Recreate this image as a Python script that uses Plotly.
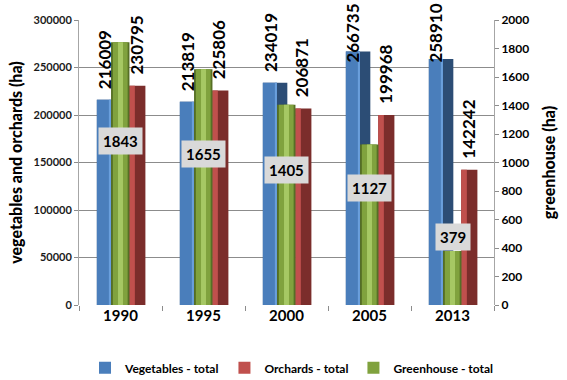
import plotly.graph_objects as go

years = ["1990", "1995", "2000", "2005", "2013"]
vegetables = [216009, 213819, 234019, 266735, 258910]
orchards = [230795, 225806, 206871, 199968, 142242]
greenhouse = [1843, 1655, 1405, 1127, 379]

FONT = "Lato"

fig = go.Figure()

def bar(y, offset, width, color, name=None, legend=False, axis="y", rank=None):
    fig.add_trace(go.Bar(
        x=years, y=y, offset=offset, width=width, yaxis=axis,
        marker=dict(color=color, line=dict(width=0)),
        name=name, showlegend=legend, legendrank=rank if rank else 1000,
        hoverinfo="skip"))

# Vegetables (blue, 3D-like: dark side + face + highlight)
bar(vegetables, -0.285, 0.295, "#2c4d75")
bar(vegetables, -0.285, 0.17, "#4a7ebb", "Vegetables - total", True, rank=1)
bar(vegetables, -0.14, 0.025, "#6a9fdc")
# Orchards (red)
bar(orchards, 0.105, 0.195, "#7b2d2b")
bar(orchards, 0.105, 0.068, "#c0504d", "Orchards - total", True, rank=2)
# Greenhouse (green, secondary axis)
bar(greenhouse, -0.114, 0.222, "#566f25", axis="y2")
bar(greenhouse, -0.092, 0.178, "#80a23e", "Greenhouse - total", True, axis="y2", rank=3)
bar(greenhouse, -0.03, 0.06, "#a6c864", axis="y2")

annotations = []
label_ceiling = 244000
bold17 = dict(family=FONT, size=17, color="black", weight="bold")
for i, v in enumerate(vegetables):
    annotations.append(dict(x=i - 0.2, y=min(v, label_ceiling), xref="x", yref="y",
                            text=str(v), textangle=-90, showarrow=False,
                            yanchor="bottom", xanchor="center", yshift=9, font=bold17))
for i, v in enumerate(orchards):
    annotations.append(dict(x=i + 0.19, y=min(v, label_ceiling), xref="x", yref="y",
                            text=str(v), textangle=-90, showarrow=False,
                            yanchor="bottom", xanchor="center", yshift=9, font=bold17))
for i, v in enumerate(greenhouse):
    annotations.append(dict(x=i, y=0.46 * v + 300, xref="x", yref="y2",
                            text=str(v), showarrow=False, bgcolor="#d9d9d9",
                            borderpad=4, yanchor="middle", xanchor="center",
                            font=dict(family=FONT, size=15, color="black", weight="bold")))

fig.update_layout(
    width=567, height=380,
    margin=dict(l=79, r=62, t=15, b=75),
    paper_bgcolor="white", plot_bgcolor="white",
    barmode="overlay",
    font=dict(family=FONT, color="black"),
    annotations=annotations,
    legend=dict(orientation="h", xref="container", yref="container",
                x=0.515, xanchor="center", y=0.032, yanchor="middle",
                font=dict(family=FONT, size=12, color="black", weight="bold"),
                itemwidth=30, traceorder="normal", tracegroupgap=0),
    xaxis=dict(type="category", range=[-0.5, 4.5], tickson="boundaries",
               showgrid=False, zeroline=False, showline=False,
               ticks="outside", ticklen=5, tickcolor="#8c8c8c",
               tickfont=dict(family=FONT, size=15, color="black", weight="bold")),
    yaxis=dict(range=[0, 300000], dtick=50000, tickformat="d",
               showgrid=True, gridcolor="#8c8c8c", gridwidth=1, zeroline=False,
               showline=True, linecolor="#a6a6a6", linewidth=1,
               ticks="outside", ticklen=4, tickcolor="#8c8c8c",
               tickfont=dict(family=FONT, size=11, color="#1a1a1a", weight="bold"),
               title=dict(text="vegetables and orchards (ha)", standoff=6,
                          font=dict(family=FONT, size=16, color="black", weight=900))),
    yaxis2=dict(range=[0, 2000], dtick=200, overlaying="y", side="right",
                showgrid=False, zeroline=False,
                showline=True, linecolor="#a6a6a6", linewidth=1,
                ticks="outside", ticklen=4, tickcolor="#8c8c8c",
                tickfont=dict(family=FONT, size=12, color="black", weight="bold"),
                title=dict(text="greenhouse (ha)",
                           font=dict(family=FONT, size=16, color="black", weight=900))),
)

fig.write_html("out.html")
